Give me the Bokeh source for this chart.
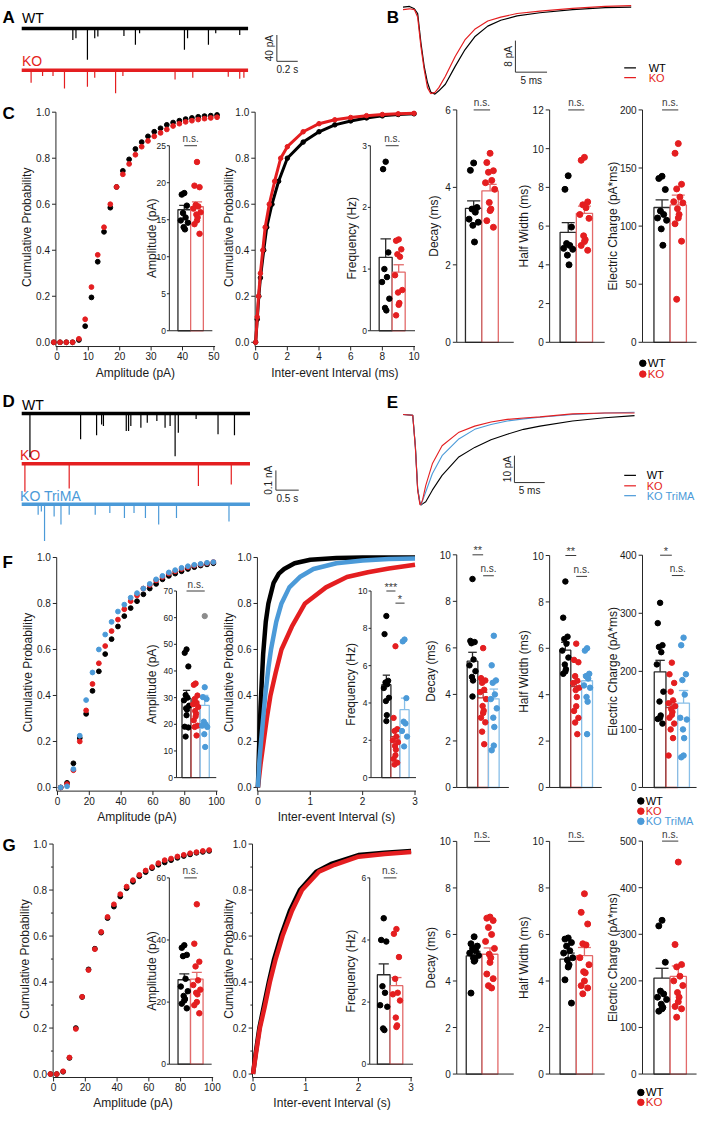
import numpy as np
from bokeh.plotting import figure
from bokeh.models import Range1d
from bokeh.core.properties import value
from bokeh.embed import file_html
from bokeh.resources import INLINE

# ============================ DATA ============================
# ---- A : example traces (event time s, event amplitude pA) ----
A_duration_s = 2.17
A_wt_t = [0.49, 0.52, 0.63, 0.70, 0.73, 0.98, 1.09, 1.13, 1.56, 1.59, 1.79, 1.86, 2.09]
A_wt_amp = [17.5, 15, 47.5, 15, 12.5, 11.5, 25, 7.5, 32.5, 15, 25, 7.5, 10]
A_ko_t = [0.09, 0.20, 0.30, 0.41, 0.63, 0.70, 0.90, 0.97, 1.47, 1.64, 1.98, 2.09, 2.13]
A_ko_amp = [19, 9, 9, 28, 25, 11.5, 35, 9, 14, 11.5, 10, 13, 11.5]
A_bar_s, A_bar_pA = 0.2, 40

# ---- B : averaged events (ms, pA) ----
B_t_ms = [0, 1.03, 1.8, 2.32, 2.84, 3.35, 3.87, 4.38, 5.05, 5.67, 6.7, 8.25, 9.79, 11.34,
          13.4, 15.46, 18.04, 21.65, 26.8, 31.96, 36.08]
B_wt_pA = [0.3, 0.5, -0.1, -1.3, -8.8, -14.7, -18.8, -21.2, -21.75, -20.9, -19.25, -14.7,
           -10.5, -7.2, -4.5, -3.0, -1.9, -1.1, -0.3, 0.2, 0.3]
B_ko_pA = [-0.3, -0.1, -0.3, -2.2, -9.7, -15.5, -20.1, -21.6, -21.3, -20.1, -17.2, -12.2,
           -8.0, -5.3, -3.2, -2.2, -1.3, -0.7, 0.0, 0.5, 0.7]
B_bar_ms, B_bar_pA = 5, 8

# ---- C ----
C_amp_bins = [-1, 1, 3, 5, 7, 9, 11, 13, 15, 17, 19, 21, 23, 25, 27, 29, 31, 33, 35, 37, 39,
              41, 43, 45, 47, 49, 51]
C_amp_cum_wt = [0, 0, 0, 0, 0.01, 0.07, 0.195, 0.35, 0.48, 0.585, 0.675, 0.745, 0.795, 0.84,
                0.87, 0.895, 0.915, 0.93, 0.945, 0.955, 0.963, 0.97, 0.975, 0.98, 0.983, 0.985, 0.988]
C_amp_cum_ko = [0, 0, 0, 0, 0.015, 0.1, 0.24, 0.38, 0.5, 0.6, 0.675, 0.73, 0.775, 0.815, 0.85,
                0.875, 0.895, 0.91, 0.925, 0.94, 0.95, 0.958, 0.963, 0.968, 0.972, 0.975, 0.978]
C_amp_xticks = [0, 10, 20, 30, 40, 50]
C_iei_wt_t = [0, 0.1, 0.2, 0.3, 0.51, 0.7, 1.03, 1.45, 2.0, 3.0, 4.0, 5.0, 6.0, 7.0, 8.0, 9.0, 10.0]
C_iei_wt_p = [0, 0.1, 0.2, 0.28, 0.4, 0.5, 0.6, 0.7, 0.8, 0.87, 0.915, 0.945, 0.962, 0.975,
              0.984, 0.99, 0.993]
C_iei_ko_t = [0, 0.1, 0.18, 0.3, 0.45, 0.6, 0.86, 1.2, 1.58, 2.0, 3.0, 4.0, 5.0, 6.0, 7.0, 8.0, 9.0, 10.0]
C_iei_ko_p = [0, 0.11, 0.2, 0.3, 0.4, 0.5, 0.6, 0.7, 0.8, 0.85, 0.915, 0.95, 0.967, 0.977,
              0.985, 0.99, 0.993, 0.995]
C_iei_xticks = [0, 2, 4, 6, 8, 10]
C_amp_mean, C_amp_sem = [16.35, 16.75], [0.6, 0.65]
C_amp_wt = [18.6, 18.4, 16.9, 15.9, 15.3, 14.9, 14.6, 14.0, 13.7]
C_amp_ko = [22.8, 19.6, 19.4, 17.0, 16.8, 16.5, 16.0, 15.7, 15.3, 14.9, 14.4, 13.1]
C_amp_yticks = [0, 5, 10, 15, 20, 25]
C_freq_mean, C_freq_sem = [1.19, 0.95], [0.3, 0.12]
C_freq_wt = [2.74, 2.62, 1.27, 1.0, 0.87, 0.79, 0.52, 0.37, 0.33]
C_freq_ko = [1.48, 1.46, 1.32, 1.24, 1.2, 0.9, 0.66, 0.62, 0.45, 0.42, 0.25]
C_freq_yticks = [0, 1, 2, 3]
C_decay_mean, C_decay_sem = [3.46, 3.91], [0.19, 0.17]
C_decay_wt = [4.63, 4.44, 3.48, 3.44, 3.36, 3.18, 3.1, 3.02, 2.59]
C_decay_ko = [4.88, 4.64, 4.43, 4.39, 4.18, 4.12, 3.95, 3.61, 3.44, 3.40, 3.14, 2.97]
C_decay_yticks = [0, 2, 4, 6]
C_hw_mean, C_hw_sem = [5.68, 6.66], [0.5, 0.37]
C_hw_wt = [8.6, 7.9, 5.95, 5.1, 5.0, 4.85, 4.8, 4.5, 4.0]
C_hw_ko = [9.55, 9.4, 7.25, 7.1, 6.95, 6.6, 6.4, 5.5, 5.3, 5.2, 5.0, 4.75]
C_hw_yticks = [0, 2, 4, 6, 8, 10, 12]
C_ec_mean, C_ec_sem = [116, 118.2], [6.5, 8.5]
C_ec_wt = [142.9, 141, 131.5, 113, 110, 107, 105, 97.6, 83.5]
C_ec_ko = [171, 162.7, 136, 132, 125, 121, 120, 115, 110, 107, 102, 87, 37]
C_ec_yticks = [0, 50, 100, 150, 200]

# ---- D : example traces ----
D_duration_s = 5.0
D_wt_t = [0.18, 1.29, 1.64, 1.75, 1.79, 2.29, 2.34, 2.39, 2.61, 2.75, 2.96, 3.14, 3.25, 3.36,
          3.43, 3.82, 4.30, 4.66]
D_wt_amp = [222, 130, 110, 55, 63, 88, 88, 63, 72, 47, 38, 72, 63, 217, 97, 27, 105, 110]
D_ko_t = [0.07, 1.04, 3.87, 4.59]
D_ko_amp = [142, 125, 113, 105]
D_tri_t = [0.36, 0.43, 0.50, 0.71, 0.86, 1.04, 1.61, 1.93, 2.25, 2.46, 2.71, 3.00, 3.39, 4.54]
D_tri_amp = [53, 37, 187, 62, 103, 53, 53, 45, 70, 45, 70, 103, 70, 87]
D_bar_s, D_bar_pA = 0.5, 100

# ---- E : averaged events ----
E_t_ms = [0, 1.61, 2.04, 2.42, 2.80, 2.96, 3.23, 3.76, 4.84, 6.45, 9.14, 11.83, 14.52, 17.2,
          19.9, 22.6, 27.96, 33.3, 38.2]
E_wt_pA = [0, -0.24, -11.6, -27.5, -32.8, -33.6, -33.2, -32.4, -28.1, -22.6, -15.9, -12.2,
           -9.4, -7.3, -5.5, -4.3, -2.4, -1.2, -0.4]
E_ko_pA = [0, -0.24, -12.2, -28.1, -33.6, -33.2, -31.7, -26.3, -18.3, -11.6, -6.7, -4.3,
           -2.8, -1.8, -1.3, -0.85, 0.24, 0.6, 0.6]
E_tri_pA = [0, -0.24, -12.0, -27.7, -33.0, -33.6, -32.0, -28.7, -22.0, -15.3, -9.2, -5.5,
            -3.7, -2.4, -1.6, -1.0, 0.0, 0.6, 0.85]
E_bar_ms, E_bar_pA = 5, 10

# ---- F ----
F_amp_bins = [2, 6, 10, 14, 18, 22, 26, 30, 34, 38, 42, 46, 50, 54, 58, 62, 66, 70, 74, 78,
              82, 86, 90, 94, 98]
F_amp_cum_wt = [0, 0.02, 0.105, 0.215, 0.32, 0.42, 0.505, 0.58, 0.645, 0.70, 0.745, 0.78, 0.81,
                0.84, 0.865, 0.885, 0.905, 0.92, 0.93, 0.94, 0.95, 0.958, 0.965, 0.97, 0.975]
F_amp_cum_ko = [0, 0.015, 0.075, 0.2, 0.335, 0.45, 0.54, 0.615, 0.68, 0.73, 0.775, 0.81, 0.835,
                0.865, 0.88, 0.9, 0.915, 0.93, 0.94, 0.95, 0.958, 0.965, 0.97, 0.975, 0.98]
F_amp_cum_tri = [0, 0.005, 0.08, 0.225, 0.38, 0.5, 0.6, 0.665, 0.72, 0.765, 0.795, 0.825, 0.845,
                 0.865, 0.885, 0.905, 0.92, 0.935, 0.945, 0.955, 0.962, 0.968, 0.972, 0.977, 0.98]
F_amp_xticks = [0, 20, 40, 60, 80, 100]
F_iei_wt_t = [0, 0.02, 0.05, 0.1, 0.15, 0.2, 0.3, 0.4, 0.5, 0.7, 1.0, 1.5, 2.0, 3.0]
F_iei_wt_p = [0, 0.15, 0.35, 0.58, 0.72, 0.8, 0.89, 0.93, 0.95, 0.975, 0.99, 0.998, 1.0, 1.0]
F_iei_tri_t = [0, 0.03, 0.06, 0.1, 0.14, 0.2, 0.25, 0.35, 0.45, 0.6, 0.8, 1.06, 1.5, 2.0, 2.5, 3.0]
F_iei_tri_p = [0, 0.12, 0.2, 0.3, 0.4, 0.52, 0.6, 0.72, 0.8, 0.87, 0.915, 0.95, 0.975, 0.987,
               0.993, 0.996]
F_iei_ko_t = [0, 0.05, 0.11, 0.17, 0.24, 0.34, 0.45, 0.65, 0.9, 1.3, 1.7, 2.1, 2.5, 3.0]
F_iei_ko_p = [0, 0.1, 0.2, 0.3, 0.4, 0.5, 0.6, 0.7, 0.8, 0.87, 0.915, 0.936, 0.952, 0.968]
F_iei_xticks = [0, 1, 2, 3]
F_amp_mean, F_amp_sem = [29.6, 27.1, 27.1], [3.1, 1.5, 3.7]
F_amp_wt = [48.1, 46.8, 41.7, 31, 30, 29, 27, 26, 25.5, 23.4, 19.1, 18.8, 15.4]
F_amp_ko = [35.3, 34.8, 30.8, 29.5, 28, 27.5, 26.5, 25, 24, 23, 21.5, 19.5, 19, 15.8]
F_amp_tri = [33.9, 30.2, 29.5, 21, 20, 19.5, 19, 16.3, 11.5]
F_amp_outlier = [60.6]
F_amp_yticks = [0, 10, 20, 30, 40, 50, 60, 70]
F_freq_mean, F_freq_sem = [4.98, 2.2, 3.64], [0.51, 0.3, 0.62]
F_freq_wt = [8.66, 7.69, 5.19, 5.1, 5.0, 4.8, 4.28, 4.1, 3.35, 3.03]
F_freq_ko = [7.04, 3.2, 2.6, 2.5, 2.2, 2.0, 1.9, 1.7, 1.5, 1.2, 1.0, 0.8, 0.7]
F_freq_tri = [7.4, 7.3, 4.26, 3.0, 2.9, 2.5, 2.2, 1.67]
F_freq_yticks = [0, 2, 4, 6, 8, 10]
F_decay_mean, F_decay_sem = [5.43, 3.85, 3.81], [0.38, 0.24, 0.42]
F_decay_wt = [8.96, 6.3, 6.25, 6.2, 5.5, 5.25, 5.0, 4.75, 4.6, 3.91]
F_decay_ko = [5.99, 4.7, 4.6, 4.5, 4.2, 4.1, 3.8, 3.5, 3.3, 3.2, 3.0, 2.8, 2.4, 1.86]
F_decay_tri = [6.52, 5.25, 4.6, 4.5, 4.0, 3.8, 3.4, 3.0, 2.6, 1.8, 1.6]
F_hw_mean, F_hw_sem = [5.92, 4.35, 4.6], [0.34, 0.21, 0.26]
F_hw_wt = [8.88, 7.32, 6.5, 6.4, 6.2, 5.9, 5.6, 5.3, 5.1, 5.0, 4.9]
F_hw_ko = [6.2, 5.5, 5.4, 4.8, 4.6, 4.5, 4.3, 4.2, 3.9, 3.5, 3.3, 3.0, 2.8, 2.3]
F_hw_tri = [6.0, 5.9, 4.9, 4.8, 4.7, 4.4, 4.3, 3.9, 3.7, 2.3]
F_ms_yticks = [0, 2, 4, 6, 8, 10]
F_ec_mean, F_ec_sem = [199.2, 137.5, 145.4], [19.8, 10.5, 21.6]
F_ec_wt = [318, 283, 245, 242, 233, 212, 165, 148, 124, 120, 118, 110]
F_ec_ko = [215, 195, 180, 165, 150, 145, 140, 135, 130, 125, 120, 110, 100, 85, 55]
F_ec_tri = [258, 245, 195, 185, 160, 120, 117, 100, 85, 55, 52]
F_ec_yticks = [0, 100, 200, 300, 400]

# ---- G ----
G_amp_bins = [-2, 2, 6, 10, 14, 18, 22, 26, 30, 34, 38, 42, 46, 50, 54, 58, 62, 66, 70, 74, 78,
              82, 86, 90, 94, 98]
G_amp_cum_wt = [0, 0, 0.01, 0.07, 0.2, 0.335, 0.455, 0.545, 0.615, 0.678, 0.728, 0.772, 0.808,
                0.836, 0.86, 0.878, 0.895, 0.91, 0.92, 0.93, 0.94, 0.948, 0.955, 0.962, 0.966, 0.97]
G_amp_cum_ko = [0, 0, 0.012, 0.072, 0.196, 0.336, 0.452, 0.543, 0.618, 0.683, 0.738, 0.782, 0.815,
                0.843, 0.866, 0.885, 0.9, 0.917, 0.93, 0.937, 0.946, 0.953, 0.96, 0.965, 0.97, 0.974]
G_amp_xticks = [0, 20, 40, 60, 80, 100]
G_iei_wt_t = [0, 0.05, 0.12, 0.2, 0.3, 0.4, 0.53, 0.7, 0.89, 1.2, 1.5, 2.0, 2.5, 3.0]
G_iei_wt_p = [0, 0.09, 0.2, 0.29, 0.4, 0.5, 0.6, 0.71, 0.8, 0.88, 0.915, 0.952, 0.962, 0.97]
G_iei_ko_t = [0, 0.05, 0.13, 0.22, 0.32, 0.43, 0.56, 0.74, 0.93, 1.25, 1.55, 2.0, 2.5, 3.0]
G_iei_ko_p = [0, 0.08, 0.2, 0.29, 0.4, 0.5, 0.6, 0.71, 0.8, 0.88, 0.91, 0.945, 0.957, 0.965]
G_iei_xticks = [0, 1, 2, 3]
G_amp_mean, G_amp_sem = [27.2, 27.4], [1.9, 2.2]
G_amp_wt = [38.3, 37.5, 35.2, 34.8, 27.5, 25, 23.5, 22, 21, 20.5, 19.5, 18.0]
G_amp_ko = [51.5, 38.8, 33, 31.5, 27, 25.5, 24, 23, 22.5, 20, 19, 16.4]
G_amp_yticks = [0, 20, 40, 60]
G_freq_mean, G_freq_sem = [2.88, 2.53], [0.35, 0.26]
G_freq_wt = [4.7, 4.0, 3.95, 2.51, 2.3, 1.9, 1.85, 1.15, 1.1]
G_freq_ko = [4.35, 4.2, 3.45, 2.75, 2.3, 2.25, 2.05, 1.5, 1.25, 1.2]
G_freq_yticks = [0, 2, 4, 6]
G_decay_mean, G_decay_sem = [5.08, 5.15], [0.19, 0.27]
G_decay_wt = [5.9, 5.6, 5.5, 5.4, 5.3, 5.2, 5.1, 5.0, 4.9, 4.85, 3.48]
G_decay_ko = [6.75, 6.7, 6.6, 6.3, 6.0, 5.7, 5.4, 5.15, 5.0, 4.8, 4.3, 4.1, 3.8, 3.7]
G_hw_mean, G_hw_sem = [4.94, 5.09], [0.26, 0.35]
G_hw_wt = [5.85, 5.8, 5.65, 5.5, 5.3, 5.2, 5.0, 4.9, 4.7, 4.6, 4.05, 3.05]
G_hw_ko = [7.75, 6.95, 6.45, 5.6, 5.55, 5.0, 4.7, 4.4, 4.35, 4.0, 3.8, 3.7, 3.45]
G_ms_yticks = [0, 2, 4, 6, 8, 10]
G_ec_mean, G_ec_sem = [206, 209.5], [21, 22.5]
G_ec_wt = [330, 318, 240, 178, 172, 165, 160, 150, 143, 140, 135]
G_ec_ko = [455, 278, 235, 230, 210, 200, 190, 175, 165, 155, 145, 140, 122]
G_ec_yticks = [0, 100, 200, 300, 400, 500]

CUM_TICKS = [0, 0.2, 0.4, 0.6, 0.8, 1.0]
CUM_LABELS = ["0.0", "0.2", "0.4", "0.6", "0.8", "1.0"]
CUM_MINOR = [0.1, 0.3, 0.5, 0.7, 0.9]

# ============================ STYLE ============================
FONT = "Liberation Sans"
BLACK, RED, BLUE, GRAY = "#000000", "#e41e20", "#4b9ad8", "#8c8c8c"
AXC, TXT, SIGC = "#262626", "#1a1a1a", "#3a3a3a"
WT_EDGE, KO_EDGE, KO_EDGE_F, TRI_EDGE = "#2a2a2a", "#e36a6a", "#b03636", "#88bfe8"

W_REF, H_REF = 715.0, 1128.0
p = figure(width=699, height=1112, x_range=Range1d(0, W_REF), y_range=Range1d(H_REF, 0),
           output_backend="svg", toolbar_location=None, min_border=0,
           x_axis_location=None, y_axis_location=None, outline_line_color=None,
           background_fill_color="white", border_fill_color="white")
p.grid.visible = False


class Panel:
    n = 0

    def __init__(self, xd0, xr0, xd1, xr1, yd0, yr0, yd1, yr1):
        Panel.n += 1
        self.xn, self.yn = f"px{Panel.n}", f"py{Panel.n}"
        self.kx = (xd1 - xd0) / (xr1 - xr0)
        self.ky = (yd1 - yd0) / (yr1 - yr0)
        self.xd0, self.xr0, self.yd0, self.yr0 = xd0, xr0, yd0, yr0
        p.extra_x_ranges[self.xn] = Range1d(start=self.X(0), end=self.X(W_REF))
        p.extra_y_ranges[self.yn] = Range1d(start=self.Y(H_REF), end=self.Y(0))

    def X(self, r):
        return self.xd0 + (r - self.xr0) * self.kx

    def Y(self, r):
        return self.yd0 + (r - self.yr0) * self.ky

    def kw(self):
        return dict(x_range_name=self.xn, y_range_name=self.yn)


def T(x, y, s, P=None, size=11, color=TXT, align="left", base="middle", angle=0.0,
      bold=False, xo=0, yo=0):
    kw = P.kw() if P is not None else {}
    p.text(x=[x], y=[y], text=[s], text_font=value(FONT), text_font_size=f"{size}px",
           text_color=color, text_align=align, text_baseline=base, angle=angle,
           text_font_style=("bold" if bold else "normal"), x_offset=xo, y_offset=yo, **kw)


def yaxis(P, xa, lo, hi, ticks, labels, size=10, tl=4.0, gap=2.0, minor=()):
    k = P.kw()
    p.segment(x0=[xa], y0=[lo], x1=[xa], y1=[hi], line_color=AXC, line_width=1, **k)
    xt = xa - tl * P.kx
    n = len(ticks)
    p.segment(x0=[xa] * n, y0=list(ticks), x1=[xt] * n, y1=list(ticks), line_color=AXC,
              line_width=1, **k)
    if minor:
        xm = xa - tl * 0.55 * P.kx
        p.segment(x0=[xa] * len(minor), y0=list(minor), x1=[xm] * len(minor), y1=list(minor),
                  line_color=AXC, line_width=1, **k)
    p.text(x=[xt] * n, y=list(ticks), text=list(labels), x_offset=-gap, text_align="right",
           text_baseline="middle", text_font=value(FONT), text_font_size=f"{size}px",
           text_color=TXT, **k)


def xaxis(P, ya, lo, hi, ticks=(), labels=(), size=10, tl=4.0, gap=2.0):
    k = P.kw()
    p.segment(x0=[lo], y0=[ya], x1=[hi], y1=[ya], line_color=AXC, line_width=1, **k)
    if ticks:
        yt = ya + tl * P.ky
        n = len(ticks)
        p.segment(x0=list(ticks), y0=[ya] * n, x1=list(ticks), y1=[yt] * n, line_color=AXC,
                  line_width=1, **k)
        p.text(x=list(ticks), y=[yt] * n, text=list(labels), y_offset=gap, text_align="center",
               text_baseline="top", text_font=value(FONT), text_font_size=f"{size}px",
               text_color=TXT, **k)


def lab(ticks):
    return [f"{t:g}" for t in ticks]


def cum_axes(P, yx_ref, xend_ref, xy_ref, xticks, ytitle_ref, xtitle_ref, xtitle, minor=()):
    xa, ya = P.X(yx_ref), P.Y(xy_ref)
    yaxis(P, xa, ya, 1.0, CUM_TICKS, CUM_LABELS, size=10, minor=minor)
    xaxis(P, ya, xa, P.X(xend_ref), xticks, lab(xticks), size=10)
    T(P.X(ytitle_ref), 0.5, "Cumulative Probability", P, size=12, align="center", angle=np.pi / 2)
    T((xticks[0] + xticks[-1]) / 2, P.Y(xtitle_ref), xtitle, P, size=12, align="center")


JIT = [0.0, -0.2, 0.2, -0.1, 0.1, -0.28, 0.28, -0.05, 0.05]


def jit(n, c):
    return [c + JIT[i % len(JIT)] for i in range(n)]


def bar_panel(P, ax_ref, end_ref, top, ticks, means, sems, edges, groups, title, title_ref,
              size=10, dot=6.0, sig=(), tl=4.0, gap=2.0):
    k = P.kw()
    xa, xe = P.X(ax_ref), P.X(end_ref)
    xs = list(range(1, len(means) + 1))
    p.vbar(x=xs, top=means, bottom=0, width=1.0, fill_color="white", line_color=edges,
           line_width=1.3, **k)
    ups = [m + s for m, s in zip(means, sems)]
    p.segment(x0=xs, y0=means, x1=xs, y1=ups, line_color=edges, line_width=1.3, **k)
    p.segment(x0=[x - 0.4 for x in xs], y0=ups, x1=[x + 0.4 for x in xs], y1=ups,
              line_color=edges, line_width=1.3, **k)
    for pos, vals, col in groups:
        p.scatter(x=jit(len(vals), pos), y=vals, size=dot, color=col, **k)
    yaxis(P, xa, 0, top, ticks, lab(ticks), size=size, tl=tl, gap=gap)
    xaxis(P, 0, xa, xe)
    T(P.X(title_ref), top / 2, title, P, size=12, align="center", angle=np.pi / 2)
    for i1, i2, yl, s in sig:
        p.segment(x0=[i1], y0=[yl], x1=[i2], y1=[yl], line_color=SIGC, line_width=1, **k)
        if "*" in s:
            T((i1 + i2) / 2, yl, s, P, size=11, color=SIGC, align="center", base="bottom", yo=1.5)
        else:
            T((i1 + i2) / 2, yl, s, P, size=10, color=SIGC, align="center", base="bottom", yo=-1.5)


def trace(P, dur, ts, amps, color):
    k = P.kw()
    p.segment(x0=[0], y0=[0], x1=[dur], y1=[0], line_color=color, line_width=3.5, **k)
    p.segment(x0=ts, y0=[0] * len(ts), x1=ts, y1=[-a for a in amps], line_color=color,
              line_width=1.2, **k)


def scalebar(P, x0, ytop, dx, dy, xs, ys):
    k = P.kw()
    yb = ytop - dy
    p.segment(x0=[x0, x0], y0=[ytop, yb], x1=[x0, x0 + dx], y1=[yb, yb], line_color="#333333",
              line_width=1, **k)
    T(x0, ytop - dy / 2, ys, P, size=10, color="#222222", align="center", angle=np.pi / 2, xo=-7)
    T(x0 + dx / 2, yb, xs, P, size=10, color="#222222", align="center", yo=8)


# ============================ LETTERS ============================
for L, lx, ly in [("A", 2, 17), ("B", 395, 17), ("C", 2, 115), ("D", 2, 407), ("E", 395, 408),
                  ("F", 2, 570), ("G", 2, 857)]:
    T(lx, ly, L, size=17, color=BLACK, bold=True, base="alphabetic")

# ============================ A ============================
PA_wt = Panel(0, 21.7, 1, 128.4, 0, 28.3, -40, 55.0)
PA_ko = Panel(0, 21.7, 1, 128.4, 0, 70.7, -40, 97.4)
trace(PA_wt, A_duration_s, A_wt_t, A_wt_amp, BLACK)
trace(PA_ko, A_duration_s, A_ko_t, A_ko_amp, RED)
T(22, 17.5, "WT", size=14, color=BLACK)
T(22, 61, "KO", size=14, color=RED)
scalebar(PA_wt, PA_wt.X(282.7), PA_wt.Y(35), A_bar_s, A_bar_pA, f"{A_bar_s:g} s", f"{A_bar_pA:g} pA")

# ============================ B ============================
PB = Panel(0, 411.7, 10, 476.4, 0, 8, -10, 48)
p.line(B_t_ms, B_wt_pA, line_color=BLACK, line_width=1.2, **PB.kw())
p.line(B_t_ms, B_ko_pA, line_color=RED, line_width=1.2, **PB.kw())
scalebar(PB, PB.X(526.7), PB.Y(40.7), B_bar_ms, B_bar_pA, f"{B_bar_ms:g} ms", f"{B_bar_pA:g} pA")
p.segment(x0=[638, 638], y0=[68.3, 78.3], x1=[650, 650], y1=[68.3, 78.3], line_color=[BLACK, RED],
          line_width=1.2)
T(663, 68.3, "WT", size=11, color=BLACK)
T(663, 78.3, "KO", size=11, color=RED)

# ============================ C ============================
PCa = Panel(0, 57.7, 50, 218.3, 0, 346.7, 1, 113.3)
cum_axes(PCa, 56.7, 219.5, 351.0, C_amp_xticks, 27.0, 378.0, "Amplitude (pA)")
p.scatter(C_amp_bins, C_amp_cum_wt, size=4.8, color=BLACK, **PCa.kw())
p.scatter(C_amp_bins, C_amp_cum_ko, size=4.8, color=RED, **PCa.kw())

PCai = Panel(1, 188, 2, 201, 0, 335, 25, 147.3)
bar_panel(PCai, 172.7, 216.7, 25, C_amp_yticks, C_amp_mean, C_amp_sem, [WT_EDGE, KO_EDGE],
          [(1, C_amp_wt, BLACK), (2, C_amp_ko, RED)], "Amplitude (pA)", 155, size=8.5, dot=5.5,
          sig=[(1, 2, 25, "n.s.")], tl=2.5, gap=1.0)

PCi = Panel(0, 261, 10, 423, 0, 346.7, 1, 113.3)
cum_axes(PCi, 260.5, 424, 351.0, C_iei_xticks, 233.3, 378.0, "Inter-event Interval (ms)")
p.line(C_iei_wt_t, C_iei_wt_p, line_color=BLACK, line_width=3, line_join="round", **PCi.kw())
p.scatter(C_iei_wt_t, C_iei_wt_p, size=4.5, color=BLACK, **PCi.kw())
p.line(C_iei_ko_t, C_iei_ko_p, line_color=RED, line_width=3, line_join="round", **PCi.kw())
p.scatter(C_iei_ko_t, C_iei_ko_p, size=4.5, color=RED, **PCi.kw())

PCfi = Panel(1, 394, 2, 407.3, 0, 335, 3, 147.3)
bar_panel(PCfi, 378.3, 424, 3, C_freq_yticks, C_freq_mean, C_freq_sem, [WT_EDGE, KO_EDGE],
          [(1, C_freq_wt, BLACK), (2, C_freq_ko, RED)], "Frequency (Hz)", 360, size=8.5, dot=5.5,
          sig=[(1, 2, 3, "n.s.")], tl=2.5, gap=1.0)

PCd = Panel(1, 484, 2, 500.8, 0, 346.7, 6, 111)
bar_panel(PCd, 466.7, 525, 6, C_decay_yticks, C_decay_mean, C_decay_sem, [WT_EDGE, KO_EDGE],
          [(1, C_decay_wt, BLACK), (2, C_decay_ko, RED)], "Decay (ms)", 443,
          sig=[(1, 2, 6, "n.s.")])
PCh = Panel(1, 580.7, 2, 597.3, 0, 346.7, 12, 111)
bar_panel(PCh, 561.7, 618, 12, C_hw_yticks, C_hw_mean, C_hw_sem, [WT_EDGE, KO_EDGE],
          [(1, C_hw_wt, BLACK), (2, C_hw_ko, RED)], "Half Width (ms)", 535,
          sig=[(1, 2, 12, "n.s.")])
PCe = Panel(1, 676.7, 2, 693.3, 0, 346.7, 200, 111)
bar_panel(PCe, 656.7, 712, 200, C_ec_yticks, C_ec_mean, C_ec_sem, [WT_EDGE, KO_EDGE],
          [(1, C_ec_wt, BLACK), (2, C_ec_ko, RED)], "Electric Charge (pA*ms)", 626.7,
          sig=[(1, 2, 200, "n.s.")])
p.scatter([657, 657], [368, 379], size=6.5, color=[BLACK, RED])
T(662, 368, "WT", size=11.5, color=BLACK)
T(662, 379, "KO", size=11.5, color=RED)

# ============================ D ============================
PD_wt = Panel(0, 21.7, 1, 68.4, 0, 419, -100, 439)
PD_ko = Panel(0, 21.7, 1, 68.4, 0, 470, -100, 490)
PD_tri = Panel(0, 21.7, 1, 68.4, 0, 511, -100, 531)
T(22, 410, "WT", size=14, color=BLACK)
T(20, 461, "KO", size=14, color=RED)
T(20, 502.5, "KO TriMA", size=14, color=BLUE)
trace(PD_tri, D_duration_s, D_tri_t, D_tri_amp, BLUE)
trace(PD_ko, D_duration_s, D_ko_t, D_ko_amp, RED)
trace(PD_wt, D_duration_s, D_wt_t, D_wt_amp, BLACK)
scalebar(PD_wt, PD_wt.X(281.7), PD_wt.Y(476.7), D_bar_s, D_bar_pA, f"{D_bar_s:g} s",
         f"{D_bar_pA / 1000:g} nA")

# ============================ E ============================
PE = Panel(0, 411.7, 10, 473.7, 0, 420, -10, 447.3)
p.line(E_t_ms, E_wt_pA, line_color=BLACK, line_width=1.1, **PE.kw())
p.line(E_t_ms, E_tri_pA, line_color=BLUE, line_width=1.1, **PE.kw())
p.line(E_t_ms, E_ko_pA, line_color=RED, line_width=1.1, **PE.kw())
scalebar(PE, PE.X(525.7), PE.Y(461.7), E_bar_ms, E_bar_pA, f"{E_bar_ms:g} ms", f"{E_bar_pA:g} pA")
p.segment(x0=[638] * 3, y0=[481.7, 492.3, 502.3], x1=[650] * 3, y1=[481.7, 492.3, 502.3],
          line_color=[BLACK, RED, BLUE], line_width=1.2)
T(661, 481.7, "WT", size=11, color=BLACK)
T(661, 492.3, "KO", size=11, color=RED)
T(661, 502.3, "KO TriMA", size=11, color=BLUE)

# ============================ F ============================
PFa = Panel(0, 58.3, 100, 221, 0, 798.3, 1, 565)
cum_axes(PFa, 57.5, 222, 802, F_amp_xticks, 28.3, 828.3, "Amplitude (pA)")
p.scatter(F_amp_bins, F_amp_cum_wt, size=4.8, color=BLACK, **PFa.kw())
p.scatter(F_amp_bins, F_amp_cum_ko, size=4.8, color=RED, **PFa.kw())
p.scatter(F_amp_bins, F_amp_cum_tri, size=4.8, color=BLUE, **PFa.kw())

PFai = Panel(1, 190.3, 2, 199.6, 0, 788.3, 70, 599)
bar_panel(PFai, 180, 220.7, 70, F_amp_yticks, F_amp_mean, F_amp_sem,
          [WT_EDGE, KO_EDGE_F, TRI_EDGE],
          [(1, F_amp_wt, BLACK), (2, F_amp_ko, RED), (3, F_amp_tri, BLUE), (3, F_amp_outlier, GRAY)],
          "Amplitude (pA)", 155, size=8.5, dot=5.3, sig=[(1, 3, 70, "n.s.")], tl=2.5, gap=1.0)

PFi = Panel(0, 263.3, 3, 424, 0, 798.3, 1, 565)
cum_axes(PFi, 262.8, 425, 802, F_iei_xticks, 233.3, 828.3, "Inter-event Interval (s)")
p.line(F_iei_ko_t, F_iei_ko_p, line_color=RED, line_width=4.5, line_join="round", **PFi.kw())
p.line(F_iei_wt_t, F_iei_wt_p, line_color=BLACK, line_width=4.5, line_join="round", **PFi.kw())
p.line(F_iei_tri_t, F_iei_tri_p, line_color=BLUE, line_width=4.5, line_join="round", **PFi.kw())

PFfi = Panel(1, 394.7, 2, 404, 0, 788.3, 10, 599)
bar_panel(PFfi, 379, 425, 10, F_freq_yticks, F_freq_mean, F_freq_sem,
          [WT_EDGE, KO_EDGE_F, TRI_EDGE],
          [(1, F_freq_wt, BLACK), (2, F_freq_ko, RED), (3, F_freq_tri, BLUE)],
          "Frequency (Hz)", 359, size=8.5, dot=5.3,
          sig=[(1, 2, 10, "***"), (2, 3, 9.35, "*")], tl=2.5, gap=1.0)

PFd = Panel(1, 482.8, 2, 493.7, 0, 798.3, 10, 562.3)
bar_panel(PFd, 466.7, 520, 10, F_ms_yticks, F_decay_mean, F_decay_sem,
          [WT_EDGE, KO_EDGE_F, TRI_EDGE],
          [(1, F_decay_wt, BLACK), (2, F_decay_ko, RED), (3, F_decay_tri, BLUE)],
          "Decay (ms)", 440, dot=5.5, sig=[(1, 2, 10, "**"), (2, 3, 9.1, "n.s.")])
PFh = Panel(1, 577.8, 2, 588.9, 0, 798.3, 10, 563)
bar_panel(PFh, 561.7, 615, 10, F_ms_yticks, F_hw_mean, F_hw_sem,
          [WT_EDGE, KO_EDGE_F, TRI_EDGE],
          [(1, F_hw_wt, BLACK), (2, F_hw_ko, RED), (3, F_hw_tri, BLUE)],
          "Half Width (ms)", 535, dot=5.5, sig=[(1, 2, 10, "**"), (2, 3, 9.1, "n.s.")])
PFe = Panel(1, 674.7, 2, 686.7, 0, 798.3, 400, 562.7)
bar_panel(PFe, 656.7, 712, 400, F_ec_yticks, F_ec_mean, F_ec_sem,
          [WT_EDGE, KO_EDGE_F, TRI_EDGE],
          [(1, F_ec_wt, BLACK), (2, F_ec_ko, RED), (3, F_ec_tri, BLUE)],
          "Electric Charge (pA*ms)", 626.7, dot=5.5, sig=[(1, 2, 400, "*"), (2, 3, 365, "n.s.")])
p.scatter([655] * 3, [812, 822.3, 832.6], size=6.5, color=[BLACK, RED, BLUE])
T(660, 812, "WT", size=11, color=BLACK)
T(660, 822.3, "KO", size=11, color=RED)
T(660, 832.6, "KO TriMA", size=11, color=BLUE)

# ============================ G ============================
PGa = Panel(0, 54.3, 100, 216.7, 0, 1089, 1, 855.7)
cum_axes(PGa, 53.8, 217.5, 1092.5, G_amp_xticks, 25, 1118.3, "Amplitude (pA)", minor=CUM_MINOR)
p.scatter(G_amp_bins, G_amp_cum_wt, size=4.8, color=BLACK, **PGa.kw())
p.scatter(G_amp_bins, G_amp_cum_ko, size=4.8, color=RED, **PGa.kw())

PGai = Panel(1, 188, 2, 200.8, 0, 1079, 60, 890)
bar_panel(PGai, 172.7, 216, 60, G_amp_yticks, G_amp_mean, G_amp_sem, [WT_EDGE, KO_EDGE],
          [(1, G_amp_wt, BLACK), (2, G_amp_ko, RED)], "Amplitude (pA)", 155, size=8.5, dot=5.5,
          sig=[(1, 2, 60, "n.s.")], tl=2.5, gap=1.0)

PGi = Panel(0, 258.3, 3, 420, 0, 1089, 1, 855.7)
cum_axes(PGi, 257.8, 421, 1092.5, G_iei_xticks, 233.3, 1118.3, "Inter-event Interval (s)",
         minor=CUM_MINOR)
p.line(G_iei_wt_t, G_iei_wt_p, line_color=BLACK, line_width=4.5, line_join="round", **PGi.kw())
p.line(G_iei_ko_t, G_iei_ko_p, line_color=RED, line_width=4.5, line_join="round", **PGi.kw())

PGfi = Panel(1, 392, 2, 405, 0, 1079, 6, 890)
bar_panel(PGfi, 377.7, 422, 6, G_freq_yticks, G_freq_mean, G_freq_sem, [WT_EDGE, KO_EDGE],
          [(1, G_freq_wt, BLACK), (2, G_freq_ko, RED)], "Frequency (Hz)", 359, size=8.5, dot=5.5,
          sig=[(1, 2, 6, "n.s.")], tl=2.5, gap=1.0)

PGd = Panel(1, 484.5, 2, 500.7, 0, 1089, 10, 853)
bar_panel(PGd, 466.7, 525, 10, G_ms_yticks, G_decay_mean, G_decay_sem, [WT_EDGE, KO_EDGE],
          [(1, G_decay_wt, BLACK), (2, G_decay_ko, RED)], "Decay (ms)", 440,
          sig=[(1, 2, 10, "n.s.")])
PGh = Panel(1, 580.7, 2, 597.3, 0, 1089, 10, 853)
bar_panel(PGh, 561.7, 618, 10, G_ms_yticks, G_hw_mean, G_hw_sem, [WT_EDGE, KO_EDGE],
          [(1, G_hw_wt, BLACK), (2, G_hw_ko, RED)], "Half Width (ms)", 535,
          sig=[(1, 2, 10, "n.s.")])
PGe = Panel(1, 676.7, 2, 693.3, 0, 1089, 500, 852.7)
bar_panel(PGe, 656.7, 712, 500, G_ec_yticks, G_ec_mean, G_ec_sem, [WT_EDGE, KO_EDGE],
          [(1, G_ec_wt, BLACK), (2, G_ec_ko, RED)], "Electric Charge (pA*ms)", 626.7,
          sig=[(1, 2, 500, "n.s.")])
p.scatter([655, 655], [1107.7, 1117.7], size=6.5, color=[BLACK, RED])
T(660, 1107.7, "WT", size=11.5, color=BLACK)
T(660, 1117.7, "KO", size=11.5, color=RED)

open("out.html", "w").write(file_html(p, INLINE))
